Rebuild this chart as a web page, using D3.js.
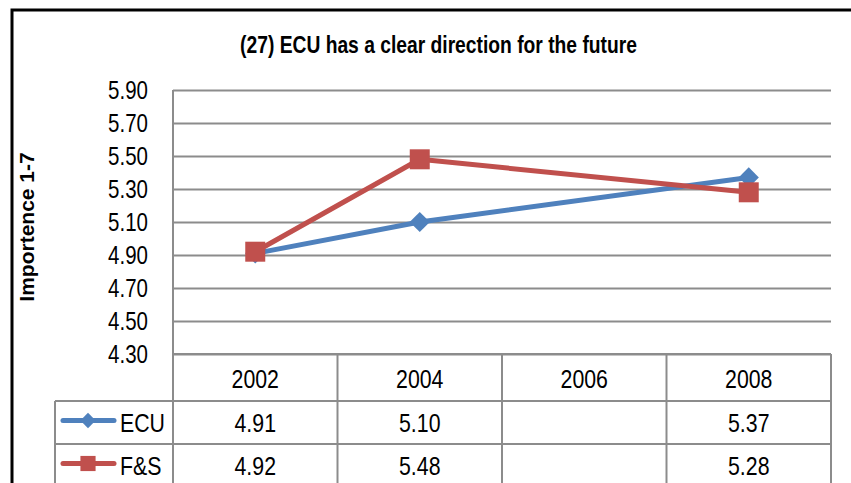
<!DOCTYPE html>
<html>
<head>
<meta charset="utf-8">
<script src="https://cdn.jsdelivr.net/npm/d3@7"></script>
<style>
  body { margin: 0; background: #fff; }
  svg { display: block; }
  text { font-family: "Liberation Sans Narrow", "Arial Narrow", "Liberation Sans", Arial, sans-serif; fill: #000; }
</style>
</head>
<body>
<div id="chart"></div>
<script>
// chart data
const years = ['2002', '2004', '2006', '2008'];
const ecuValues = [4.91, 5.10, null, 5.37];
const fsValues = [4.92, 5.48, null, 5.28];
const yTicks = [4.3, 4.5, 4.7, 4.9, 5.1, 5.3, 5.5, 5.7, 5.9];

const seriesList = [
  { name: 'ECU', values: ecuValues, color: '#4F81BD', marker: 'diamond' },
  { name: 'F&S', values: fsValues, color: '#C0504D', marker: 'square' },
];

const width = 851, height = 483;
const plot = { left: 173, right: 831, top: 90, bottom: 354 };
const table = { left: 55, headerBottom: 401, rowHeight: 43 };
const gridColor = '#8c8c8c';
// no narrow font installed, so squeeze Liberation Sans like Arial Narrow
const narrow = 0.82;
const squeeze = (px, py) => `translate(${px},${py}) scale(${narrow},1)`;

const svg = d3.select('#chart').append('svg')
  .attr('width', width)
  .attr('height', height);

const x = d3.scaleBand().domain(years).range([plot.left, plot.right]).paddingInner(0).paddingOuter(0);
const y = d3.scaleLinear().domain([4.3, 5.9]).range([plot.bottom, plot.top]);
const cx = d => x(d) + x.bandwidth() / 2;

// outer black frame (only top + left visible)
svg.append('path')
  .attr('d', `M12,${height} V10 H${width}`)
  .attr('fill', 'none')
  .attr('stroke', '#000')
  .attr('stroke-width', 3);

// title
svg.append('text')
  .attr('transform', squeeze(438.5, 45))
  .attr('text-anchor', 'middle')
  .attr('dominant-baseline', 'central')
  .attr('font-weight', 'bold')
  .attr('font-size', 23.5)
  .text('(27) ECU has a clear direction for the future');

// y axis label
svg.append('text')
  .attr('transform', 'translate(26,227) rotate(-90)')
  .attr('text-anchor', 'middle')
  .attr('dominant-baseline', 'central')
  .attr('font-weight', 'bold')
  .attr('font-size', 21)
  .text('Importence 1-7');

// horizontal gridlines + tick labels
const yAxis = svg.append('g')
  .attr('class', 'axis axis--y')
  .attr('transform', `translate(${plot.left},0)`)
  .call(d3.axisLeft(y).tickValues(yTicks).tickFormat(d3.format('.2f')).tickSize(0))
  .call(g => g.select('.domain').remove());

yAxis.selectAll('.tick text')
  .attr('x', 0)
  .attr('dy', null)
  .attr('dominant-baseline', 'central')
  .attr('transform', squeeze(-25, 0))
  .attr('font-size', 25)
  .attr('font-family', null)
  .attr('fill', '#000');

yAxis.selectAll('.tick')
  .append('line')
  .attr('x1', 0)
  .attr('x2', plot.right - plot.left)
  .attr('stroke', gridColor)
  .attr('stroke-width', 2);

// data table grid
const rowsTop = table.headerBottom;
const tableBottom = rowsTop + seriesList.length * table.rowHeight;
const tableG = svg.append('g').attr('class', 'data-table');

// horizontal lines
const hLines = [{ y: plot.bottom, x1: plot.left }];
seriesList.forEach((s, i) => hLines.push({ y: rowsTop + i * table.rowHeight, x1: table.left }));
hLines.push({ y: tableBottom, x1: table.left });
tableG.selectAll('.hline').data(hLines).enter().append('line')
  .attr('x1', d => d.x1).attr('x2', plot.right)
  .attr('y1', d => d.y).attr('y2', d => d.y)
  .attr('stroke', gridColor).attr('stroke-width', 2);

// vertical lines
const vLines = [
  { x: table.left, y1: rowsTop },
  { x: plot.left, y1: plot.top },
  ...years.slice(1).map(yr => ({ x: x(yr), y1: plot.bottom })),
  { x: plot.right, y1: plot.bottom },
];
tableG.selectAll('.vline').data(vLines).enter().append('line')
  .attr('x1', d => d.x).attr('x2', d => d.x)
  .attr('y1', d => d.y1).attr('y2', tableBottom + 1)
  .attr('stroke', gridColor).attr('stroke-width', 2);

// header years
tableG.selectAll('.year').data(years).enter().append('text')
  .attr('transform', d => squeeze(cx(d), (plot.bottom + rowsTop) / 2 + 1))
  .attr('text-anchor', 'middle')
  .attr('dominant-baseline', 'central')
  .attr('font-size', 26)
  .text(d => d);

const symbolFor = (m, size) => d3.symbol()
  .type(m === 'diamond' ? d3.symbolDiamond2 : d3.symbolSquare)
  .size(size)();

// series rows
seriesList.forEach((s, i) => {
  const rowMid = rowsTop + i * table.rowHeight + table.rowHeight / 2;
  const row = tableG.append('g');
  // legend key
  row.append('line')
    .attr('x1', 63).attr('x2', 114)
    .attr('y1', rowMid - 2).attr('y2', rowMid - 2)
    .attr('stroke', s.color).attr('stroke-width', 5)
    .attr('stroke-linecap', 'round');
  row.append('path')
    .attr('d', symbolFor(s.marker, s.marker === 'diamond' ? 150 : 230))
    .attr('transform', `translate(88,${rowMid - 2})`)
    .attr('fill', s.color);
  row.append('text')
    .attr('transform', squeeze(120, rowMid))
    .attr('dominant-baseline', 'central')
    .attr('font-size', 26)
    .text(s.name);
  // values
  row.selectAll('.val').data(years.map((yr, j) => ({ yr, v: s.values[j] })).filter(d => d.v != null))
    .enter().append('text')
    .attr('transform', d => squeeze(cx(d.yr), rowMid))
    .attr('text-anchor', 'middle')
    .attr('dominant-baseline', 'central')
    .attr('font-size', 26)
    .text(d => d.v.toFixed(2));
});

// lines + markers (gaps are spanned, like Excel)
const line = d3.line().x(d => cx(d.yr)).y(d => y(d.v));
seriesList.forEach(s => {
  const pts = years.map((yr, j) => ({ yr, v: s.values[j] })).filter(d => d.v != null);
  const g = svg.append('g').attr('class', 'series');
  g.append('path')
    .datum(pts)
    .attr('d', line)
    .attr('fill', 'none')
    .attr('stroke', s.color)
    .attr('stroke-width', 5)
    .attr('stroke-linejoin', 'round')
    .attr('stroke-linecap', 'round');
  g.selectAll('.marker').data(pts).enter().append('path')
    .attr('d', symbolFor(s.marker, s.marker === 'diamond' ? 260 : 400))
    .attr('transform', d => `translate(${cx(d.yr)},${y(d.v)})`)
    .attr('fill', s.color);
});
</script>
</body>
</html>
